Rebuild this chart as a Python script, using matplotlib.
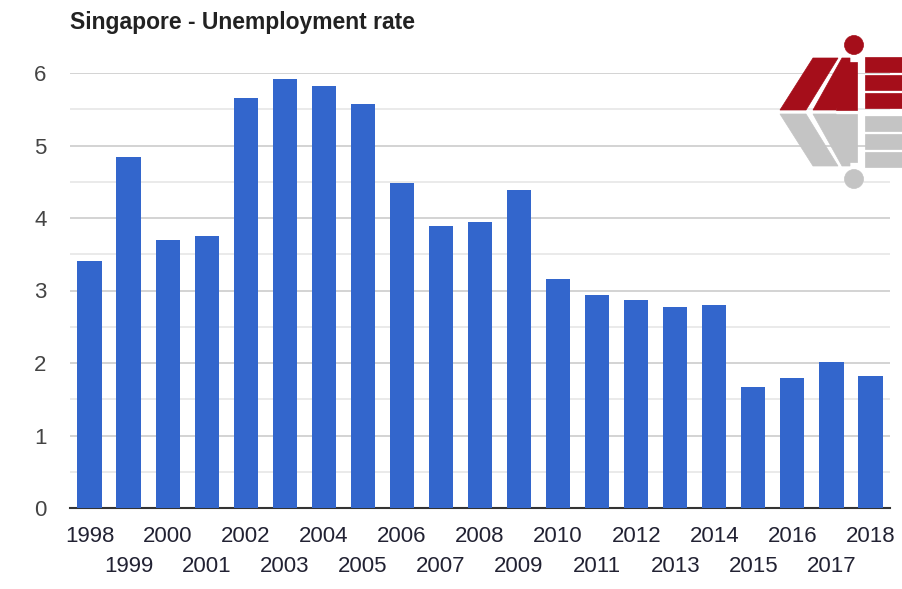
import matplotlib
matplotlib.use("Agg")
import matplotlib.pyplot as plt
from matplotlib.patches import Polygon, Circle

years = [str(y) for y in range(1998, 2019)]
rates = [3.41, 4.84, 3.70, 3.75, 5.66, 5.92, 5.82, 5.57, 4.48, 3.89, 3.94,
         4.39, 3.16, 2.94, 2.87, 2.77, 2.80, 1.67, 1.79, 2.01, 1.82]
yticks = [0, 1, 2, 3, 4, 5, 6]
title = "Singapore - Unemployment rate"

plt.rcParams['font.family'] = ['Liberation Sans', 'DejaVu Sans']

W, H = 903, 589
fig = plt.figure(figsize=(W / 100, H / 100), dpi=100)
ax = fig.add_axes([70 / W, 1 - 508 / H, (890 - 70) / W, (508 - 73) / H])

x = list(range(len(years)))
ax.bar(x, rates, width=0.62, color='#3366cc', zorder=3)
ax.set_xlim(-0.5, len(years) - 0.5)
ax.set_ylim(0, 6)
ax.set_yticks(yticks)
ax.set_yticklabels([str(v) for v in yticks])
ax.set_yticks([v + 0.5 for v in yticks[:-1]], minor=True)
ax.yaxis.grid(True, which='major', color='#cccccc', linewidth=1.2, zorder=0)
ax.yaxis.grid(True, which='minor', color='#e6e6e6', linewidth=1.2, zorder=0)
for s in ['top', 'right', 'left']:
    ax.spines[s].set_visible(False)
ax.spines['bottom'].set_color('#333333')
ax.spines['bottom'].set_linewidth(1.5)
ax.tick_params(axis='y', which='both', length=0, pad=17, labelsize=16,
               labelcolor='#444444')
ax.tick_params(axis='x', length=0)
ax.set_xticks(x)
ax.set_xticklabels(['' for _ in years])
for i, yr in enumerate(years):
    off = 18 if i % 2 == 0 else 48
    ax.annotate(yr, xy=(i, 0), xycoords=('data', 'axes fraction'),
                xytext=(0, -off), textcoords='offset pixels',
                ha='center', va='top', fontsize=16, color='#222233')

fig.text(70 / W, 1 - 22 / H, title, ha='left', va='center', fontsize=16.5,
         fontweight='bold', color='#222222')

# Logo (approximate MIE mark) in pixel coordinates
lax = fig.add_axes([0, 0, 1, 1], zorder=5)
lax.set_xlim(0, W)
lax.set_ylim(H, 0)
lax.axis('off')
red = '#a50e1a'
grey = '#c4c4c4'
def logo(sign, y0, color):
    def p(pts):
        return [(px, y0 + sign * (py - 110)) for px, py in pts]
    kw = dict(facecolor=color, edgecolor=color, lw=0.5)
    lax.add_patch(Polygon(p([(780, 110), (806, 110), (838, 58), (813, 58)]), **kw))
    lax.add_patch(Polygon(p([(813, 110), (836, 110), (850, 86), (850, 58), (842, 58)]), **kw))
    lax.add_patch(Polygon(p([(836, 110), (857, 110), (857, 62), (846, 62)]), **kw))
    for (ya, yb) in [(57, 72), (75, 90), (93, 108)]:
        lax.add_patch(Polygon(p([(865, yb), (903, yb), (903, ya), (865, ya)]), **kw))
    lax.add_patch(Circle((854, y0 + sign * (45 - 110)), 9.5, **kw))
logo(-1, 114, grey)
logo(1, 110, red)

fig.savefig('out.png', dpi=100, facecolor='white')
